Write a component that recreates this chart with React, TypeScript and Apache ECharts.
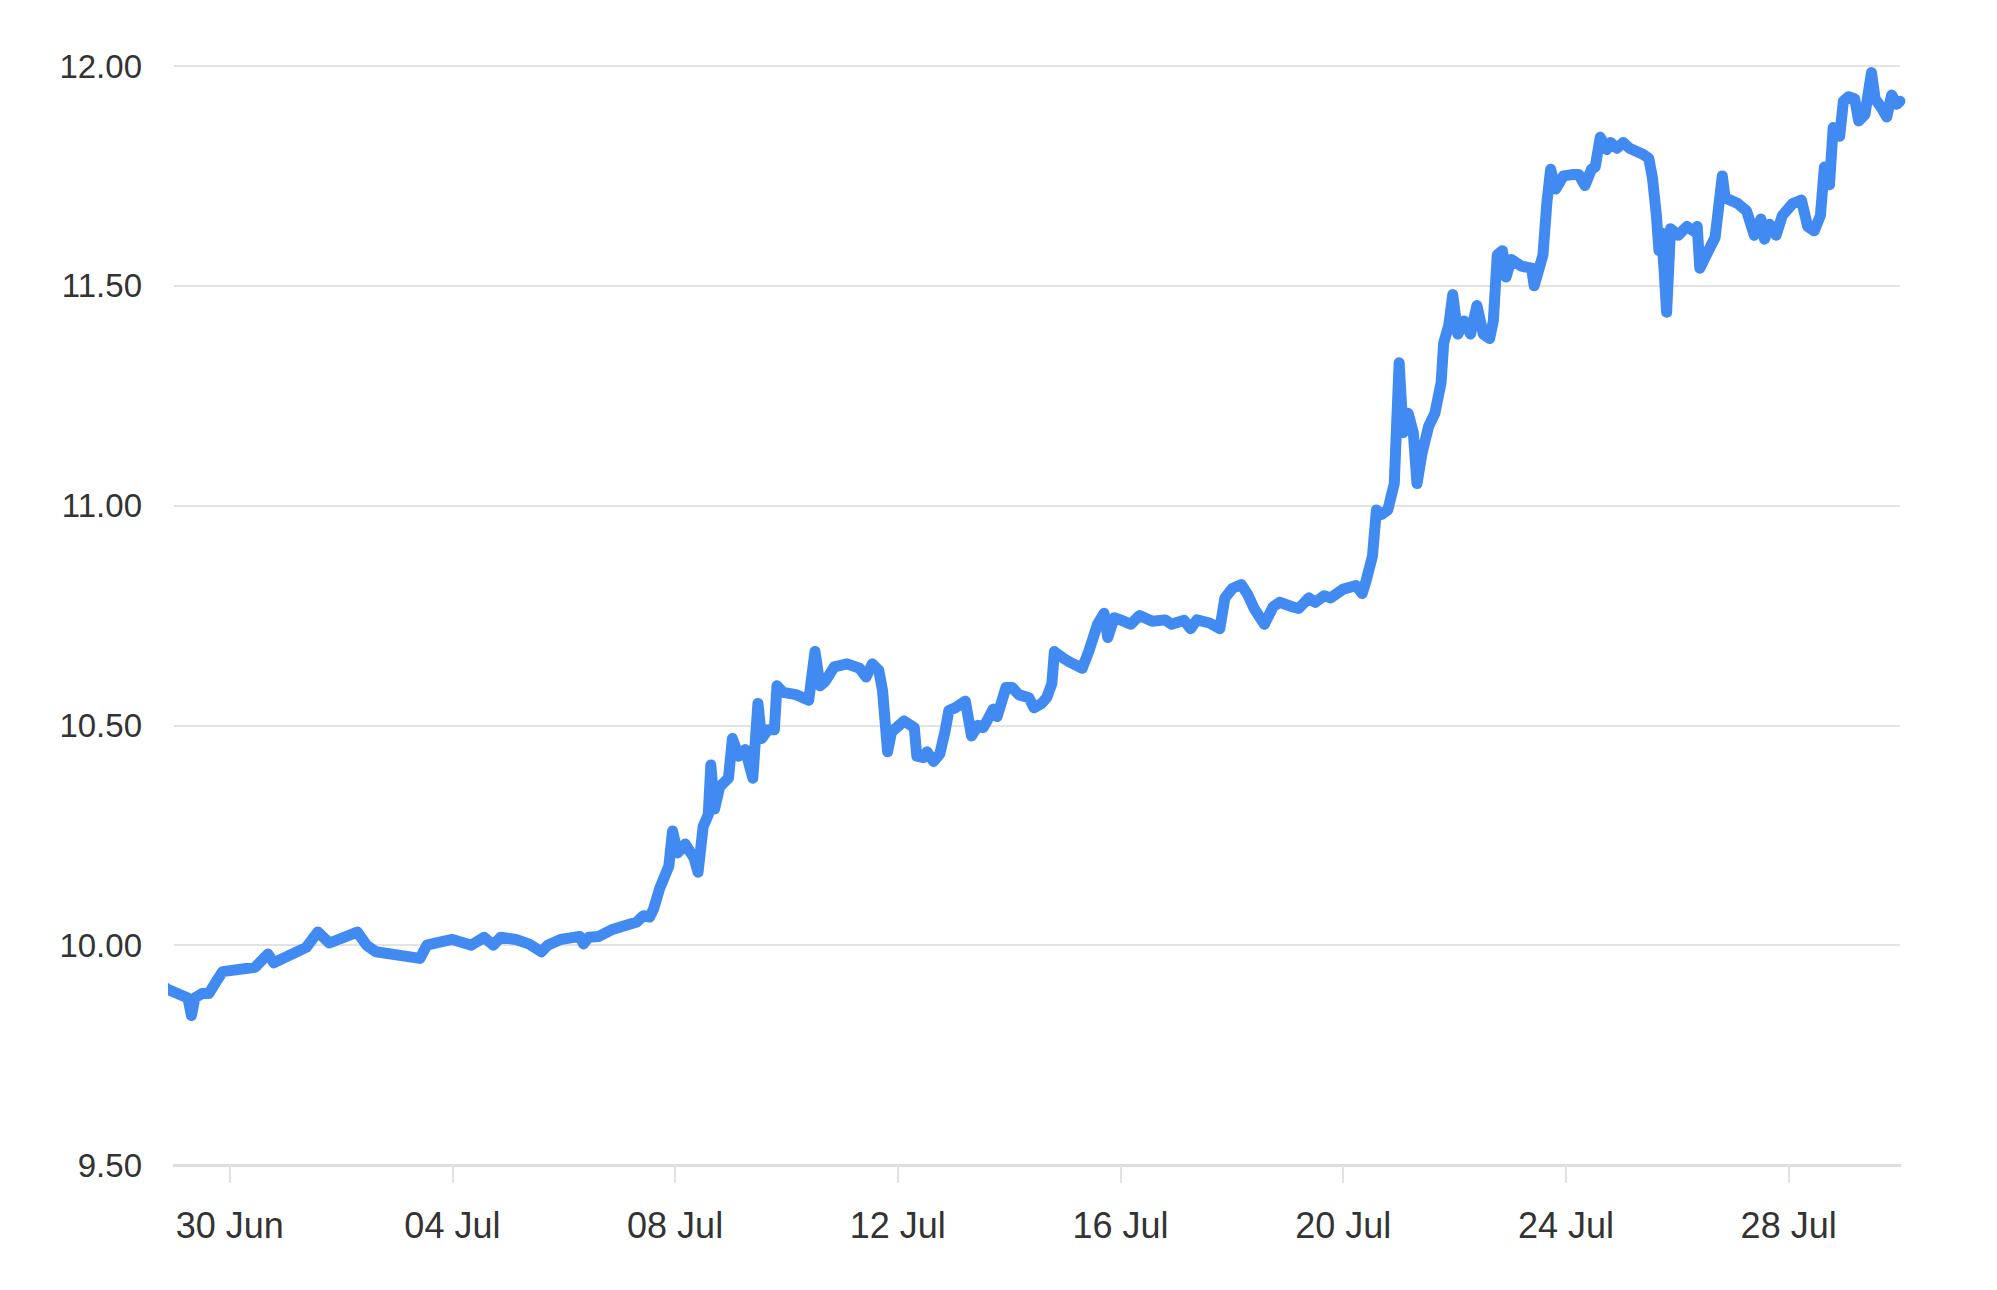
import { useEffect, useRef } from 'react'
import * as echarts from 'echarts'

// hours since 28 Jun 00:00
const hours = [
  19, 21, 30, 31.5, 33, 36, 39, 42.5, 45, 59, 64.5, 67, 81, 86, 91, 103, 107, 111, 130, 133,
  138.5, 144, 152.2, 157.7, 161.6, 164.8, 171.4, 176.9, 182.4, 185.1, 190.6, 198.9, 200.5, 202.7, 207.1, 212.6, 223.5, 226.3, 229, 230.7,
  233.4, 237.3, 238.9, 241.1, 244.4, 248.2, 249.9, 252.1, 254.3, 255.4, 257, 259.2, 263, 264.7, 267.4, 270.2, 273.5, 275.7, 277.3, 280,
  282.8, 283.9, 286.6, 292.1, 297.6, 300.3, 302.5, 304.7, 308.6, 314.1, 319.5, 322.3, 325, 327.8, 329.4, 331.6, 333.3, 338.7, 343.1, 344.2,
  347, 348.6, 351.4, 354.1, 356.3, 358, 360.7, 365.1, 367.8, 370.6, 372.8, 374.4, 377.1, 378.8, 382.6, 385.4, 388.1, 392.5, 394.7, 398,
  400.2, 402.4, 403.5, 407.3, 410.1, 415.5, 418.3, 422.1, 424.9, 426.5, 429.3, 432, 436.4, 440.2, 445.7, 451.2, 454, 459.4, 462.2, 464.9,
  470.4, 474.8, 477, 480.3, 484.1, 486.9, 489.6, 494, 497.8, 500.6, 506, 508.8, 513.2, 515.9, 519.8, 522.5, 528, 533.5, 536.2, 537.9,
  540.6, 542.3, 544.5, 547.2, 550, 552.1, 553.8, 556, 558.2, 559.8, 562, 564.8, 567.5, 570.2, 571.3, 573.5, 575.2, 577.4, 580.1, 582.9,
  585.6, 588.4, 591.1, 592.7, 594.4, 596.6, 598.2, 600.4, 604.8, 609.2, 610.3, 614.1, 615.8, 617.4, 619.6, 622.9, 626.8, 629.5, 632.2, 635,
  636.6, 638.8, 641.6, 643.2, 646, 648.7, 651.4, 656.9, 659.7, 661.3, 663, 664.1, 665.2, 666.3, 667.4, 669.1, 672.4, 676.2, 679, 680.6,
  681.7, 684.5, 688.3, 691.4, 692.6, 698.1, 701.9, 705.2, 708, 709.6, 711.8, 714.6, 717.3, 721.7, 725.5, 728.2, 731, 733.7, 735.4, 737.6,
  739.2, 742, 743.6, 745.8, 748.5, 750.2, 752.9, 755.7, 757.3, 760, 762.3, 764.4, 766.6, 768
]

const prices = [
  9.91, 9.9, 9.88, 9.84, 9.88, 9.89, 9.89, 9.92, 9.94, 9.95, 9.98, 9.96, 9.995, 10.03, 10.005, 10.03, 10.0, 9.985, 9.97, 10.0,
  10.007, 10.013, 10.0, 10.018, 10.0, 10.018, 10.013, 10.003, 9.985, 10.0, 10.013, 10.02, 10.003, 10.018, 10.02, 10.035, 10.053, 10.067, 10.064, 10.082,
  10.13, 10.18, 10.26, 10.21, 10.23, 10.198, 10.166, 10.27, 10.297, 10.41, 10.31, 10.36, 10.38, 10.47, 10.43, 10.445, 10.38, 10.55, 10.47, 10.49,
  10.49, 10.59, 10.575, 10.57, 10.557, 10.668, 10.59, 10.6, 10.633, 10.64, 10.63, 10.61, 10.64, 10.625, 10.58, 10.44, 10.485, 10.51, 10.495, 10.43,
  10.427, 10.44, 10.418, 10.435, 10.485, 10.534, 10.54, 10.555, 10.476, 10.5, 10.495, 10.51, 10.537, 10.52, 10.586, 10.586, 10.57, 10.563, 10.54, 10.55,
  10.563, 10.595, 10.668, 10.653, 10.644, 10.63, 10.668, 10.73, 10.755, 10.7, 10.745, 10.74, 10.73, 10.75, 10.737, 10.74, 10.73, 10.739, 10.72, 10.74,
  10.733, 10.72, 10.79, 10.812, 10.82, 10.797, 10.766, 10.73, 10.77, 10.78, 10.77, 10.766, 10.79, 10.78, 10.795, 10.79, 10.81, 10.818, 10.8, 10.83,
  10.885, 10.99, 10.98, 10.99, 11.05, 11.325, 11.166, 11.21, 11.166, 11.05, 11.12, 11.18, 11.21, 11.28, 11.37, 11.41, 11.48, 11.39, 11.42, 11.39,
  11.455, 11.39, 11.38, 11.42, 11.57, 11.58, 11.52, 11.56, 11.545, 11.54, 11.5, 11.57, 11.69, 11.765, 11.72, 11.75, 11.753, 11.753, 11.728, 11.765,
  11.77, 11.838, 11.81, 11.826, 11.813, 11.826, 11.813, 11.8, 11.79, 11.745, 11.66, 11.58, 11.62, 11.537, 11.44, 11.63, 11.615, 11.635, 11.625, 11.635,
  11.54, 11.57, 11.61, 11.75, 11.7, 11.687, 11.67, 11.615, 11.652, 11.606, 11.64, 11.615, 11.66, 11.687, 11.695, 11.635, 11.625, 11.66, 11.77, 11.73,
  11.86, 11.84, 11.92, 11.93, 11.925, 11.875, 11.89, 11.985, 11.925, 11.905, 11.884, 11.934, 11.913, 11.92
]

const tickHours = [48, 144, 240, 336, 432, 528, 624, 720] // 30 Jun, 04 Jul, ... 28 Jul
const tickLabels = ['30 Jun', '04 Jul', '08 Jul', '12 Jul', '16 Jul', '20 Jul', '24 Jul', '28 Jul']

export default function App() {
  const chartRef = useRef<HTMLDivElement>(null)

  useEffect(() => {
    if (!chartRef.current) return
    document.body.style.margin = '0'
    const chart = echarts.init(chartRef.current, undefined, { renderer: 'svg' })

    const data = hours.map((h, i) => [h, prices[i]])

    const option: echarts.EChartsOption = {
      animation: false,
      backgroundColor: '#ffffff',
      textStyle: { fontFamily: '"Liberation Sans", Arial, Helvetica, sans-serif' },
      grid: { left: 174, right: 97, top: 66, bottom: 125 },
      xAxis: {
        type: 'value',
        min: 24,
        max: 768,
        axisLine: { show: true, lineStyle: { color: '#dddddd', width: 3 } },
        axisTick: {
          show: true,
          length: 18,
          lineStyle: { color: '#e2e2e2', width: 2 },
          customValues: tickHours
        } as any,
        axisLabel: {
          customValues: tickHours,
          color: '#333333',
          fontSize: 36,
          margin: 42,
          formatter: (value: number) => {
            const idx = tickHours.indexOf(Math.round(value))
            return idx >= 0 ? tickLabels[idx] : ''
          }
        } as any,
        splitLine: { show: false }
      },
      yAxis: {
        type: 'value',
        min: 9.5,
        max: 12,
        interval: 0.5,
        axisLine: { show: false },
        axisTick: { show: false },
        axisLabel: {
          color: '#333333',
          fontSize: 33,
          margin: 32,
          formatter: (v: number) => v.toFixed(2)
        },
        splitLine: { lineStyle: { color: '#e3e3e3', width: 2 } }
      },
      series: [
        {
          type: 'line',
          data,
          showSymbol: false,
          clip: false,
          lineStyle: { color: '#418af2', width: 11, cap: 'round', join: 'round' }
        }
      ]
    }

    chart.setOption(option)

    return () => {
      chart.dispose()
    }
  }, [])

  return <div ref={chartRef} style={{ width: '1997px', height: '1290px' }} />
}
